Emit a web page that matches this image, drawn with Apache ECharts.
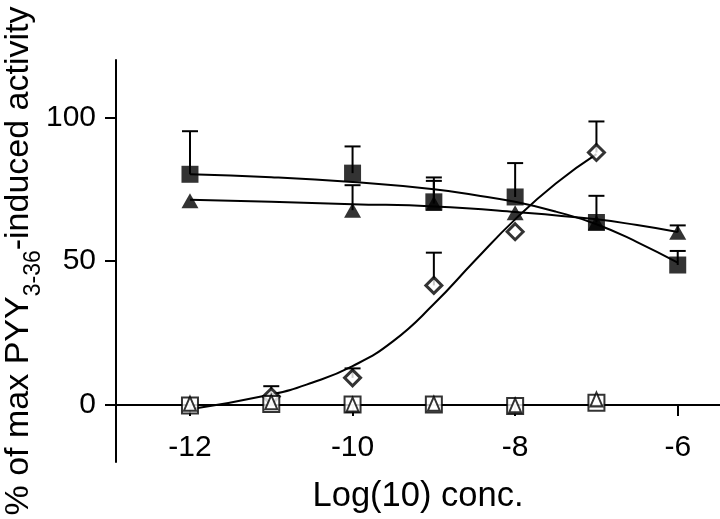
<!DOCTYPE html>
<html>
<head>
<meta charset="utf-8">
<script src="https://cdn.jsdelivr.net/npm/echarts@6/dist/echarts.min.js"></script>
<style>html,body{margin:0;padding:0;background:#fff;}#c{width:720px;height:519px;}</style>
</head>
<body>
<div id="c"></div>
<script>
// ---- data ----
const xTicks = [-12, -10, -8, -6];
const yTicks = [0, 50, 100];

// filled squares
const sqX   = [-12, -10, -9, -8, -7, -6];
const sqY   = [80.2, 80.6, 70.6, 72.3, 63.4, 48.6];
const sqTop = [95.2, 89.9, 79.1, 84.1, 72.7, 53.5];
// filled triangles
const trX   = [-12, -10, -9, -8, -7, -6];
const trY   = [71.0, 67.7, 70.0, 66.8, 63.4, 60.0];
const trTop = [null, 76.4, 77.9, null, null, 62.4];
// open diamonds
const dmX   = [-11, -10, -9, -8, -7];
const dmY   = [2.8, 9.3, 41.5, 60.2, 87.8];
const dmTop = [6.4, 12.6, 52.9, null, 98.6];
// open squares / open triangles (controls near zero)
const opX    = [-12, -11, -10, -9, -8, -7];
const opSqY  = [-0.3, 0.2, 0.0, 0.0, -0.5, 0.6];
const opTrY  = [0.3, 0.8, 0.0, 0.3, -0.3, 1.8];

// fitted curves
const fitSqX = [-12, -11, -10, -9, -8.5, -8, -7.5, -7, -6.5, -6];
const fitSqY = [80.2, 79.2, 77.5, 75.0, 73.0, 70.6, 67.2, 62.8, 56.6, 49.4];
const fitTrX = [-12, -11, -10, -9, -8, -7, -6.5, -6];
const fitTrY = [71.3, 70.6, 69.8, 69.0, 67.1, 64.5, 62.5, 60.1];
const fitDmX = [-12, -11, -10.5, -10, -9.5, -9, -8.5, -8, -7.5, -7];
const fitDmY = [-1.6, 3.5, 7.6, 13.4, 22.1, 35.0, 50.0, 64.5, 77.0, 87.2];

const zip = (a, b) => a.map((v, i) => [v, b[i]]);
const errData = [];
[[sqX, sqY, sqTop], [trX, trY, trTop], [dmX, dmY, dmTop]].forEach(([xs, ys, ts]) => {
  xs.forEach((x, i) => { if (ts[i] != null) errData.push([x, ys[i], ts[i]]); });
});

const FONT = 'Liberation Sans, Arial, Helvetica, sans-serif';
const chart = echarts.init(document.getElementById('c'));
const lineStyle = { color: '#000', width: 2 };

chart.setOption({
  animation: false,
  backgroundColor: '#fff',
  grid: { left: 116, right: 0, top: 60, bottom: 57, containLabel: false, outerBoundsMode: 'none' },
  xAxis: {
    type: 'value', min: -12.91, max: -5.48,
    offset: -57,
    name: 'Log(10) conc.', nameLocation: 'middle', nameGap: 74, nameMoveOverlap: false,
    nameTextStyle: { fontFamily: FONT, fontSize: 34.5, color: '#000' },
    axisLine: { onZero: false, lineStyle: { color: '#000', width: 2 } },
    axisTick: { customValues: xTicks, length: 11, lineStyle: { color: '#000', width: 2 } },
    axisLabel: { customValues: xTicks, margin: 28, fontFamily: FONT, fontSize: 30, color: '#000' },
    splitLine: { show: false }
  },
  yAxis: {
    type: 'value', min: -20, max: 120,
    name: '{a|% of max PYY}{b|3-36}{a|-induced activity}',
    nameLocation: 'middle', nameGap: 71, nameRotate: 90, nameMoveOverlap: false,
    nameTextStyle: {
      fontFamily: FONT, color: '#000',
      rich: {
        a: { fontFamily: FONT, fontSize: 34, color: '#000', verticalAlign: 'top' },
        b: { fontFamily: FONT, fontSize: 23, color: '#000', verticalAlign: 'bottom', padding: [20, 0, 0, 0] }
      }
    },
    axisLine: { show: true, onZero: false, lineStyle: { color: '#000', width: 2 } },
    axisTick: { customValues: yTicks, length: 11, lineStyle: { color: '#000', width: 2 } },
    axisLabel: { customValues: yTicks, margin: 20, fontFamily: FONT, fontSize: 30, color: '#000' },
    splitLine: { show: false }
  },
  series: [
    {
      type: 'custom', z: 1, clip: false,
      data: errData,
      renderItem: function (params, api) {
        const p = api.coord([api.value(0), api.value(1)]);
        const t = api.coord([api.value(0), api.value(2)]);
        const st = { stroke: '#000', lineWidth: 2 };
        return { type: 'group', children: [
          { type: 'line', shape: { x1: p[0], y1: p[1], x2: t[0], y2: t[1] }, style: st },
          { type: 'line', shape: { x1: t[0] - 8, y1: t[1], x2: t[0] + 8, y2: t[1] }, style: st }
        ]};
      }
    },
    { type: 'line', z: 2, data: zip(fitSqX, fitSqY), smooth: 0.5, showSymbol: false, symbol: 'none', lineStyle },
    { type: 'line', z: 2, data: zip(fitTrX, fitTrY), smooth: 0.5, showSymbol: false, symbol: 'none', lineStyle },
    { type: 'line', z: 2, data: zip(fitDmX, fitDmY), smooth: 0.5, showSymbol: false, symbol: 'none', lineStyle },
    { type: 'scatter', z: 3, data: zip(trX, trY), symbol: 'triangle', symbolSize: [17, 15], itemStyle: { color: '#000' } },
    { type: 'scatter', z: 4, data: zip(sqX, sqY), symbol: 'rect', symbolSize: 17, itemStyle: { color: '#000' } },
    { type: 'scatter', z: 4, data: zip(dmX, dmY), symbol: 'diamond', symbolSize: 16, itemStyle: { color: '#fff', borderColor: '#000', borderWidth: 3 } },
    { type: 'scatter', z: 5, data: zip(opX, opSqY), symbol: 'rect', symbolSize: 16, itemStyle: { color: '#fff', borderColor: '#000', borderWidth: 2 } },
    { type: 'scatter', z: 6, data: zip(opX, opTrY), symbol: 'triangle', symbolSize: [12, 14], itemStyle: { color: '#fff', borderColor: '#000', borderWidth: 2 } }
  ]
});
</script>
</body>
</html>
